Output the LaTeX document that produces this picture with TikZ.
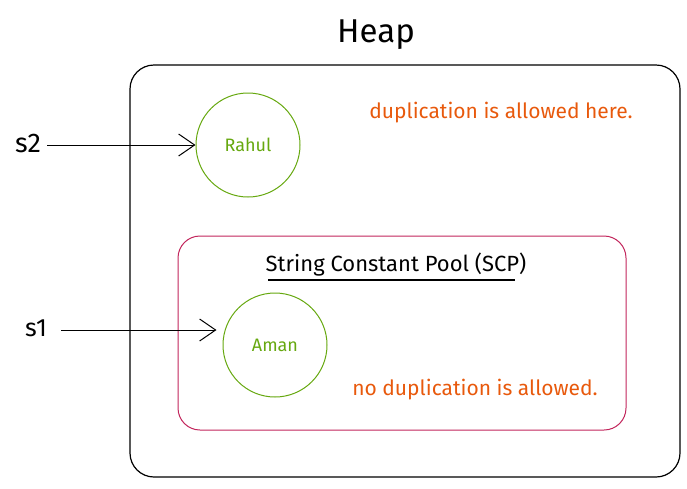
\documentclass[tikz,border=0pt]{standalone}
\usepackage{fontspec}
\setmainfont{Fira Sans}
\usetikzlibrary{arrows.meta,positioning}
\definecolor{poolred}{HTML}{C2255C}
\definecolor{objgreen}{HTML}{66A80F}
\definecolor{noteorange}{HTML}{E8590C}
\tikzset{
  refarrow/.style={-{Straight Barb[length=16pt,width=22pt,line width=1pt]},line width=1pt,black},
  objcircle/.style={draw=objgreen,circle,line width=1pt,minimum size=104pt,text=objgreen,font=\fontsize{18}{18}\selectfont,inner sep=0pt},
  note/.style={text=noteorange,font=\fontsize{21}{21}\selectfont,inner sep=0pt}
}
\begin{document}
\begin{tikzpicture}[x=1pt,y=-1pt]
\useasboundingbox (0,0) rectangle (687,488);
\node[font=\fontsize{33}{33}\selectfont,inner sep=0pt] (title) at (376,35) {Heap};
\node[draw=black,line width=1.2pt,rounded corners=24pt,minimum width=550pt,minimum height=412pt,inner sep=0pt] (heap) at (405,271) {};
\node[draw=poolred,line width=1pt,rounded corners=22pt,minimum width=448pt,minimum height=194pt,inner sep=0pt] (scp) at (402,333) {};
\node[objcircle] (rahul) at (248,145) {Rahul};
\node[objcircle] (aman) at (275,345) {Aman};
\node[note] (dupok) at (501,113) {duplication is allowed here.};
\node[note] (dupno) at (475,390) {no duplication is allowed.};
\node[font=\fontsize{22}{22}\selectfont,inner sep=0pt] (pool) at (396,265) {String Constant Pool (SCP)};
\coordinate (ulstart) at (268,280);
\coordinate (ulend) at (515,280);
\draw[line width=1.2pt] (ulstart) -- (ulend);
\node[font=\fontsize{27}{27}\selectfont,inner sep=0pt] (s2) at (28,143) {s2};
\node[font=\fontsize{25}{25}\selectfont,inner sep=0pt] (s1) at (36,328) {s1};
\coordinate (amanin) at ([yshift=15pt,xshift=-6pt]aman.west);
\draw[refarrow] (s2.east) ++(6,2) -- (rahul.west);
\draw[refarrow] (s1.east) ++(14,2) -- (amanin);
\end{tikzpicture}
\end{document}
